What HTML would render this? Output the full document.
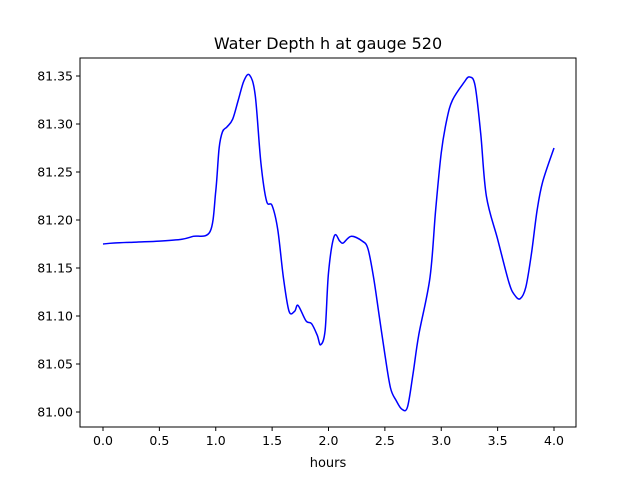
<!DOCTYPE html>
<html><head><meta charset="utf-8"><style>
body{margin:0;background:#fff;}
svg{font-family:"DejaVu Sans","Liberation Sans",sans-serif;}
</style></head><body>
<svg id="chart" width="640" height="480">
<rect x="0" y="0" width="640" height="480" fill="#fff"/>
<text x="328" y="49" font-size="16" text-anchor="middle">Water Depth h at gauge 520</text>
<g id="axes"></g>
<text x="328" y="467" font-size="13" text-anchor="middle">hours</text>
</svg>
<script>
const times=[0,0.1,0.3,0.5,0.7,0.8,0.95,1.0,1.03,1.06,1.1,1.15,1.2,1.25,1.3,1.35,1.4,1.45,1.5,1.55,1.6,1.65,1.7,1.73,1.8,1.85,1.9,1.93,1.97,2.0,2.05,2.1,2.13,2.2,2.3,2.35,2.4,2.45,2.5,2.55,2.6,2.65,2.7,2.75,2.8,2.9,2.95,3.0,3.05,3.1,3.2,3.25,3.3,3.35,3.4,3.5,3.6,3.65,3.7,3.75,3.8,3.85,3.9,4.0];
const depths=[81.175,81.176,81.177,81.178,81.180,81.183,81.188,81.23,81.275,81.292,81.297,81.305,81.325,81.345,81.351,81.33,81.26,81.22,81.215,81.19,81.14,81.105,81.105,81.111,81.095,81.092,81.08,81.07,81.085,81.145,81.183,81.178,81.176,81.183,81.178,81.17,81.14,81.10,81.06,81.025,81.012,81.003,81.005,81.04,81.08,81.14,81.21,81.27,81.305,81.325,81.343,81.349,81.34,81.29,81.225,81.18,81.135,81.122,81.118,81.13,81.165,81.21,81.24,81.275];
const xTicks=[0,0.5,1,1.5,2,2.5,3,3.5,4];
const yTicks=[81.00,81.05,81.10,81.15,81.20,81.25,81.30,81.35];
const NS="http://www.w3.org/2000/svg";
const g=document.getElementById('axes');
const L=80,R=576,T=58,B=427;
function xs(t){return 103+t*(554-103)/4;}
function ys(v){return 412-(v-81)*(412-76)/0.35;}
function mk(tag,attrs){const e=document.createElementNS(NS,tag);for(const k in attrs)e.setAttribute(k,attrs[k]);g.appendChild(e);return e;}
const frame=mk('rect',{x:L,y:T,width:R-L,height:B-T,fill:'none',stroke:'#000','stroke-width':1});


xTicks.forEach(t=>{const x=xs(t);
 const tk=mk('line',{x1:x,y1:B,x2:x,y2:B+4,stroke:'#000'});
 
 
 const tx=mk('text',{x:x,y:B+18,'font-size':12.5,'text-anchor':'middle'});tx.textContent=t.toFixed(1);
 
 });
yTicks.forEach(v=>{const y=ys(v);
 const tk=mk('line',{x1:L-4,y1:y,x2:L,y2:y,stroke:'#000'});
 
 
 const tx=mk('text',{x:L-7,y:y+4.5,'font-size':12.5,'text-anchor':'end'});tx.textContent=v.toFixed(2);
 
 });
const pts=times.map((t,i)=>[xs(t),ys(depths[i])]);
let d='M'+pts[0][0]+','+pts[0][1];
for(let i=0;i<pts.length-1;i++){const p0=pts[Math.max(0,i-1)],p1=pts[i],p2=pts[i+1],p3=pts[Math.min(pts.length-1,i+2)];
 const c1x=p1[0]+(p2[0]-p0[0])/6,c1y=p1[1]+(p2[1]-p0[1])/6,c2x=p2[0]-(p3[0]-p1[0])/6,c2y=p2[1]-(p3[1]-p1[1])/6;
 d+=' C'+c1x+','+c1y+' '+c2x+','+c2y+' '+p2[0]+','+p2[1];}
const line=mk('path',{d:d,fill:'none',stroke:'#0000ff','stroke-width':1.5});


</script>
</body></html>
